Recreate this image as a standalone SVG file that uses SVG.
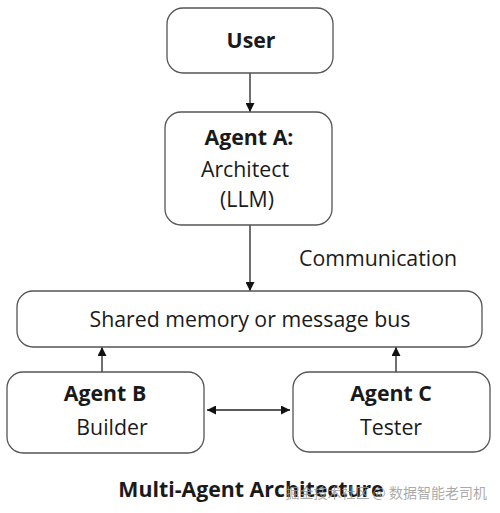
<svg xmlns="http://www.w3.org/2000/svg" width="500" height="513" viewBox="0 0 500 513">
<defs>
<style>
.box{fill:#fff;stroke:#555;stroke-width:1.3}
.t{font-family:"Open Sans","Liberation Sans",sans-serif;fill:#1a1a1a;text-anchor:middle;font-size:21.3px}
.b{font-weight:bold}
.line{stroke:#222;stroke-width:1.3;fill:none}
</style>
<marker id="ah" viewBox="0 0 10 10" refX="10" refY="5" markerWidth="9" markerHeight="9" markerUnits="userSpaceOnUse" orient="auto-start-reverse">
<path d="M0,0 L10,5 L0,10 z" fill="#111"/>
</marker>
</defs>
<rect width="500" height="513" fill="#fff"/>
<g id="connectors">
<line class="line" x1="250" y1="73" x2="250" y2="112" marker-end="url(#ah)"/>
<line class="line" x1="250" y1="225" x2="250" y2="291" marker-end="url(#ah)"/>
<line class="line" x1="102" y1="372" x2="102" y2="347" marker-end="url(#ah)"/>
<line class="line" x1="396" y1="372" x2="396" y2="347" marker-end="url(#ah)"/>
<line class="line" x1="207" y1="410" x2="290" y2="410" marker-start="url(#ah)" marker-end="url(#ah)"/>
<text class="t" x="378" y="266">Communication</text>
</g>
<g id="user">
<rect class="box" x="167" y="8" width="166" height="65" rx="16"/>
<text class="t b" x="251" y="48">User</text>
</g>
<g id="agentA">
<rect class="box" x="165" y="112" width="167" height="113" rx="16"/>
<text class="t b" x="249" y="145">Agent A:</text>
<text class="t" x="245" y="177">Architect</text>
<text class="t" x="247" y="207">(LLM)</text>
</g>
<g id="bus">
<rect class="box" x="17" y="291" width="465" height="56" rx="16"/>
<text class="t" x="250" y="327">Shared memory or message bus</text>
</g>
<g id="agentB">
<rect class="box" x="7" y="372" width="197" height="81" rx="16"/>
<text class="t b" x="105" y="401">Agent B</text>
<text class="t" x="112" y="435">Builder</text>
</g>
<g id="agentC">
<rect class="box" x="293" y="372" width="197" height="80" rx="16"/>
<text class="t b" x="391" y="401">Agent C</text>
<text class="t" x="391" y="435">Tester</text>
</g>
<text class="t b" x="251" y="497">Multi-Agent Architecture</text>
<text x="487" y="498" font-size="14" text-anchor="end" fill="#9a9a9a" fill-opacity="0.85" font-family="'Noto Sans CJK SC',sans-serif">掘金技术社区 @ 数据智能老司机</text>
</svg>
